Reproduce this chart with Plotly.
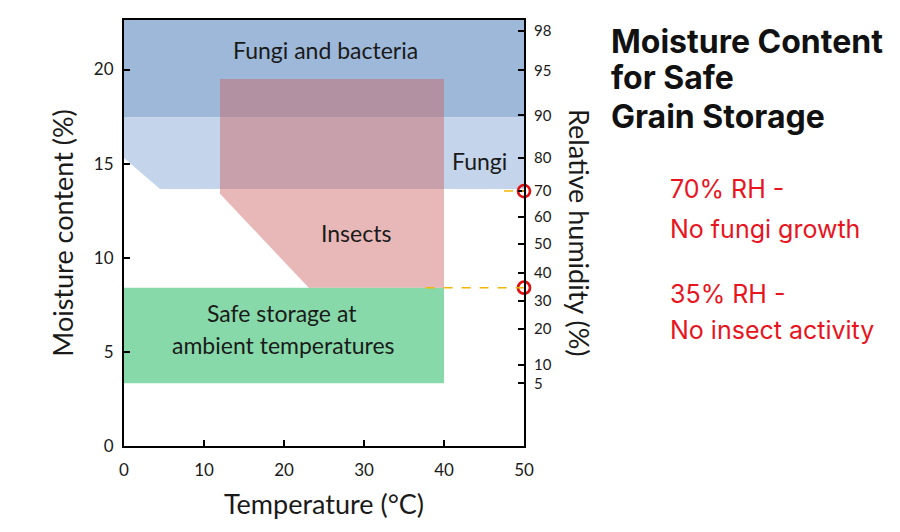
import plotly.graph_objects as go

# axis extents (temperature in degC, moisture content in %)
T_MAX = 50
MC_MAX = 22.63

# regions: polygon vertices (temperature, moisture content)
fungi_bact_t = [0, 50, 50, 0]
fungi_bact_mc = [17.45, 17.45, MC_MAX, MC_MAX]

fungi_t = [0, 4.5, 50, 50, 0]
fungi_mc = [15.3, 13.65, 13.65, 17.45, 17.45]

insects_t = [12, 12, 23.1, 40, 40]
insects_mc = [19.5, 13.4, 8.4, 8.4, 19.5]

safe_t = [0, 40, 40, 0]
safe_mc = [3.33, 3.33, 8.4, 8.4]

# left axis ticks
mc_ticks = [0, 5, 10, 15, 20]
t_ticks = [0, 10, 20, 30, 40, 50]

# right axis: relative humidity labels and the moisture content they sit at
rh_labels = ["98", "95", "90", "80", "70", "60", "50", "40", "30", "20", "10", "5"]
rh_mc = [22.05, 19.95, 17.57, 15.29, 13.54, 12.17, 10.74, 9.21, 7.72, 6.24, 4.29, 3.33]

# thresholds marked on the RH axis
thresh_mc = [13.54, 8.41]
thresh_start_t = [47.5, 37.7]

FONT = "Lato"
TITLE_FONT = "Inter"
RED = "#E8141E"
INK = "#1a1a1a"

fig = go.Figure()


def region(t, mc, color):
    fig.add_trace(go.Scatter(x=t, y=mc, fill="toself", fillcolor=color, mode="lines",
                             line=dict(width=0), hoverinfo="skip", showlegend=False))


region(fungi_bact_t, fungi_bact_mc, "#9DB8D9")
region(fungi_t, fungi_mc, "#C4D4EA")
region(safe_t, safe_mc, "#87D9A9")
region(insects_t, insects_mc, "rgba(204,98,98,0.45)")

# dashed threshold lines running out to the labels
for mc, t0 in zip(thresh_mc, thresh_start_t):
    fig.add_shape(type="line", xref="x", yref="y", x0=t0, x1=T_MAX * 1.33, y0=mc, y1=mc,
                  line=dict(color="#F2B705", width=1.5, dash="dash"), layer="above")

# red circles on the RH axis
fig.add_trace(go.Scatter(x=[T_MAX] * len(thresh_mc), y=thresh_mc, mode="markers",
                         marker=dict(size=12, color="rgba(0,0,0,0)", line=dict(color="#E01010", width=2.7)),
                         cliponaxis=False, hoverinfo="skip", showlegend=False))

# dummy trace to activate the right axis
fig.add_trace(go.Scatter(x=[None], y=[None], yaxis="y2", showlegend=False))

region_labels = [
    (25.2, 21.06, "Fungi and bacteria"),
    (44.4, 15.13, "Fungi"),
    (29, 11.32, "Insects"),
    (19.7, 7.09, "Safe storage at"),
    (19.9, 5.34, "ambient temperatures"),
]
for t, mc, txt in region_labels:
    fig.add_annotation(x=t, y=mc, text=txt, showarrow=False,
                       font=dict(family=FONT, size=23, color=INK))

# right-hand side texts
fig.add_annotation(xref="paper", yref="paper", x=1.14, y=0.5, xanchor="center", yanchor="middle",
                   text="Relative humidity (%)", textangle=90, showarrow=False,
                   font=dict(family=FONT, size=27, color=INK))

title_lines = [(0.9486, "Moisture Content"), (0.8645, "for Safe"), (0.7734, "Grain Storage")]
for yp, txt in title_lines:
    fig.add_annotation(xref="paper", yref="paper", x=1.212, y=yp, xanchor="left", yanchor="middle",
                       text=f"<b>{txt}</b>", showarrow=False,
                       font=dict(family=TITLE_FONT, size=32, color="#111111"))

red_texts = [(13.65, "70% RH -"), (11.53, "No fungi growth"), (8.1, "35% RH -"), (6.14, "No insect activity")]
for mc, txt in red_texts:
    fig.add_annotation(xref="paper", yref="y", x=1.36, y=mc, xanchor="left", yanchor="middle", text=txt,
                       showarrow=False, font=dict(family=TITLE_FONT, size=25, color=RED))

axis_common = dict(showgrid=False, zeroline=False, showline=True, linecolor="black", linewidth=2,
                   ticks="inside", ticklen=6, tickwidth=1.5, tickcolor="black")

fig.update_layout(
    width=900, height=532,
    margin=dict(l=116, r=384, t=10, b=94),
    plot_bgcolor="white", paper_bgcolor="white",
    xaxis=dict(range=[0, T_MAX], tickvals=t_ticks, mirror=True, ticklabelstandoff=8,
               tickfont=dict(family=FONT, size=17, color=INK),
               title=dict(text="Temperature (°C)", font=dict(family=FONT, size=27, color=INK), standoff=16),
               **axis_common),
    yaxis=dict(range=[0, MC_MAX], tickvals=mc_ticks, ticklabelstandoff=5,
               tickfont=dict(family=FONT, size=17, color=INK),
               title=dict(text="Moisture content (%)", font=dict(family=FONT, size=27, color=INK), standoff=12),
               **axis_common),
    yaxis2=dict(range=[0, MC_MAX], overlaying="y", side="right", tickvals=rh_mc, ticktext=rh_labels,
                ticklabelstandoff=5, tickfont=dict(family=FONT, size=15, color=INK), **axis_common),
)

fig.write_html("out.html")
